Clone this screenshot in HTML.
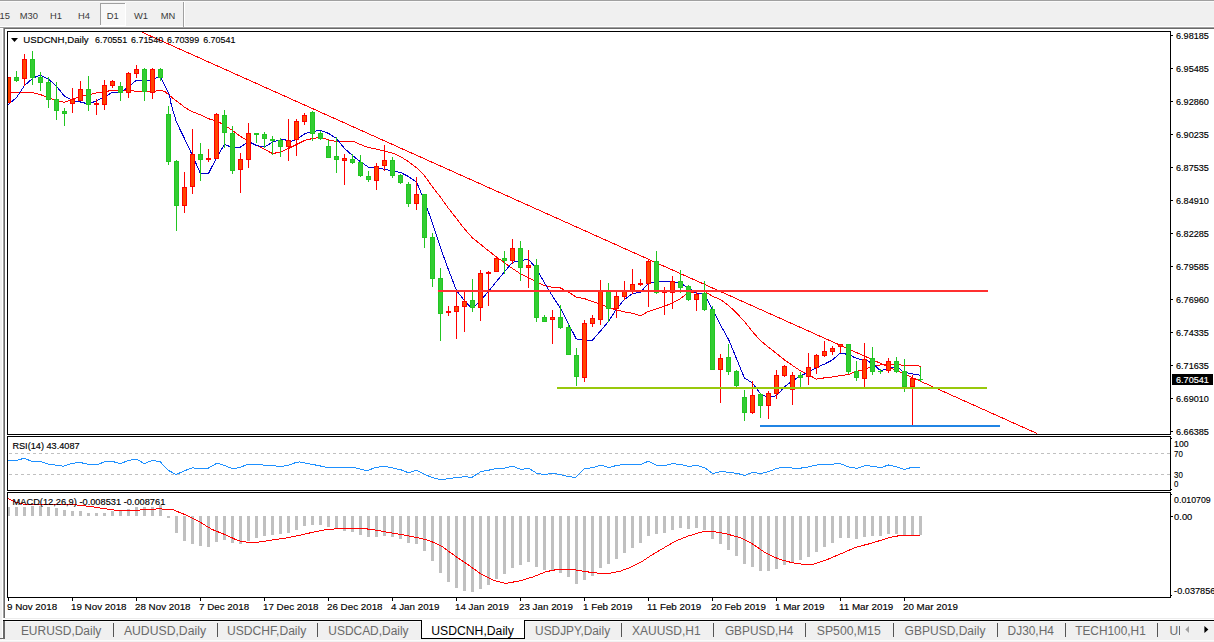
<!DOCTYPE html>
<html><head><meta charset="utf-8"><title>USDCNH,Daily</title>
<style>
html,body{margin:0;padding:0;background:#fff;}
body{width:1214px;height:642px;overflow:hidden;position:relative;font-family:"Liberation Sans",sans-serif;}
svg{position:absolute;left:0;top:0;}
text{font-family:"Liberation Sans",sans-serif;}
.ax{font-size:9.5px;fill:#000;stroke:#000;stroke-width:0.15px;}
.dt{font-size:9.8px;fill:#000;stroke:#000;stroke-width:0.15px;}
.lb{font-size:9.5px;fill:#000;stroke:#000;stroke-width:0.15px;}
.tf{font-size:9.4px;fill:#3a3a3a;}
.tab{font-size:12px;fill:#6a6a6a;}
</style></head><body>
<svg width="1214" height="642" viewBox="0 0 1214 642" shape-rendering="crispEdges">
<rect x="0" y="0" width="1214" height="642" fill="#fff"/>
<!-- toolbar -->
<rect x="0" y="0" width="1214" height="27" fill="#f0f0f0"/>
<rect x="0" y="0" width="1214" height="1" fill="#a0a0a0"/>
<rect x="0" y="1" width="1214" height="1" fill="#fafafa"/>
<rect x="0" y="26" width="1214" height="1" fill="#fff"/>
<rect x="0" y="27" width="1214" height="1" fill="#a0a0a0"/>
<rect x="4" y="28" width="1210" height="1" fill="#696969"/>
<!-- left strip -->
<rect x="0" y="29" width="2" height="613" fill="#f0f0f0"/>
<rect x="2" y="28" width="1" height="591" fill="#fff"/>
<rect x="3" y="28" width="1" height="590" fill="#a0a0a0"/>
<rect x="4" y="28" width="1" height="590" fill="#696969"/>
<!-- D1 button -->
<rect x="100" y="3" width="26" height="23" fill="#f8f8f8"/>
<rect x="100" y="3" width="26" height="1" fill="#a0a0a0"/>
<rect x="100" y="3" width="1" height="23" fill="#a0a0a0"/>
<rect x="125" y="3" width="1" height="23" fill="#fff"/>
<rect x="100" y="25" width="26" height="1" fill="#fff"/>
<rect x="183" y="2" width="1" height="25" fill="#a0a0a0"/>
<rect x="184" y="2" width="1" height="25" fill="#fff"/>
<g shape-rendering="auto">
<text x="-0.5" y="18.8" class="tf">15</text>
<text x="19.8" y="18.8" class="tf">M30</text>
<text x="50" y="18.8" class="tf">H1</text>
<text x="78" y="18.8" class="tf">H4</text>
<text x="106.8" y="18.8" class="tf">D1</text>
<text x="134" y="18.8" class="tf">W1</text>
<text x="160.7" y="18.8" class="tf">MN</text>
</g>
<!-- chart frames -->
<g fill="none" stroke="#000" stroke-width="1">
<rect x="7.5" y="31.5" width="1163" height="403"/>
<rect x="7.5" y="436.5" width="1163" height="54"/>
<rect x="7.5" y="492.5" width="1163" height="105"/>
</g>
<!-- clip for chart -->
<defs><clipPath id="cm"><rect x="8" y="32" width="1162" height="402"/></clipPath>
<clipPath id="cd"><rect x="8" y="493" width="1162" height="104"/></clipPath></defs>
<g clip-path="url(#cm)">
<polyline points="8.0,92.5 16.4,92.5 24.4,92.5 32.5,92.5 40.4,94.6 48.5,97.9 56.6,100.3 64.5,102.3 72.5,99.2 80.4,96.3 88.5,94.7 96.4,93.0 104.5,91.9 112.5,90.1 120.4,90.6 128.5,90.1 136.4,91.4 144.5,91.9 152.5,91.7 161.1,90.0 165.2,91.8 169.3,95.3 174.0,99.2 179.2,102.9 185.0,107.6 190.9,111.1 196.7,113.4 202.6,115.7 208.4,118.7 214.3,120.4 220.1,122.8 224.5,125.1 232.4,130.5 240.5,136.5 248.6,141.2 256.5,145.3 264.6,149.2 272.5,153.6 280.6,152.0 288.5,148.5 296.6,144.5 304.7,140.4 312.6,138.5 320.5,137.5 328.6,139.9 336.5,141.5 344.6,141.1 352.7,141.1 360.6,144.6 368.7,147.6 376.6,149.2 384.7,151.2 392.6,153.1 400.7,156.7 408.6,161.8 416.7,167.8 424.6,175.9 432.7,187.1 440.7,197.5 448.6,208.5 456.5,218.5 464.4,228.8 472.4,237.8 480.4,244.2 488.3,250.6 496.5,257.0 504.5,262.7 512.5,268.6 520.4,273.7 528.4,277.6 536.3,281.4 544.3,285.6 552.4,287.3 560.4,288.0 568.3,292.0 576.2,297.0 584.4,298.6 592.4,301.6 600.3,304.2 608.3,307.3 616.3,309.9 624.2,311.9 632.2,313.2 640.4,315.8 648.4,311.4 656.3,308.8 664.6,306.3 672.5,302.9 680.5,298.6 688.4,292.6 696.4,292.1 704.4,291.2 712.6,296.4 720.6,299.6 728.5,305.4 736.5,312.9 744.4,321.5 752.4,331.6 760.4,340.6 768.3,347.0 776.5,353.5 784.5,359.9 792.5,365.5 800.4,370.7 808.4,374.8 816.3,379.1 824.3,377.9 832.5,376.9 840.0,375.7 849.3,374.3 854.0,371.9 862.0,370.0 867.1,368.2 870.1,367.2 875.0,365.4 881.1,364.9 899.8,364.9 904.5,365.4 916.6,365.4 919.9,366.3 920.6,367.4" fill="none" stroke="#ff0000" stroke-width="1"/>
<polyline points="8.0,104.7 16.4,97.6 24.4,85.7 32.5,78.4 39.7,75.1 48.5,79.1 56.6,86.4 64.5,96.3 72.5,100.5 80.4,102.0 88.5,104.0 96.4,100.9 104.5,97.0 112.5,92.3 120.4,92.6 128.5,87.0 136.4,80.1 144.5,80.4 152.5,80.0 154.7,78.9 157.6,77.2 161.1,78.4 169.3,94.7 171.3,105.0 176.5,122.2 184.4,138.4 192.5,155.6 200.4,173.5 208.5,173.5 216.4,158.0 224.5,144.5 232.4,147.5 240.5,147.1 248.6,141.5 256.5,145.5 264.6,147.1 272.5,142.0 280.6,139.8 284.7,139.4 288.5,142.0 296.6,139.4 304.7,133.8 312.6,131.4 320.5,130.4 328.6,133.4 336.5,138.5 344.6,148.6 352.7,155.7 360.6,161.8 368.7,167.4 376.6,167.4 384.7,169.3 392.6,170.9 400.7,172.5 408.6,176.6 416.6,182.3 424.6,201.0 432.6,223.7 440.6,248.1 448.5,269.9 456.5,290.4 464.4,300.7 470.3,306.6 474.2,306.6 480.4,300.7 488.3,291.7 496.5,281.4 504.5,271.9 512.5,262.2 520.4,260.9 528.4,259.1 536.3,268.6 544.3,282.5 552.4,296.0 560.4,308.2 568.4,323.5 576.2,338.9 584.4,340.2 592.4,340.2 600.3,331.2 608.3,321.7 616.3,309.3 624.2,299.6 632.2,293.9 640.4,292.1 648.4,283.7 656.3,281.9 664.6,281.9 672.5,281.9 680.5,283.1 688.4,288.0 696.4,293.2 704.4,293.6 712.6,309.8 720.6,325.2 728.5,339.3 736.5,358.6 744.4,377.9 752.4,383.0 760.4,393.8 765.8,396.3 772.2,396.3 776.5,395.8 784.5,386.8 792.5,380.9 800.4,376.1 808.4,372.0 816.3,367.6 824.3,364.2 832.5,359.9 840.0,353.2 844.7,353.4 846.1,354.6 851.0,355.1 854.0,357.4 862.0,359.8 867.1,360.2 870.1,362.6 875.0,365.4 878.1,368.6 881.1,371.0 883.9,369.6 886.1,369.4 890.9,367.7 894.0,367.2 899.1,368.2 902.1,371.0 907.1,372.9 910.1,373.5 915.0,374.3 920.0,375.2" fill="none" stroke="#0000cd" stroke-width="1"/>
<line x1="141.7" y1="32" x2="1037" y2="433.5" stroke="#ff0000" stroke-width="1"/>
<rect x="8" y="77" width="1" height="26" fill="#ff0000"/>
<rect x="6" y="77" width="5" height="26" fill="#ff0000"/>
<rect x="7" y="78" width="3" height="24" fill="#ff4500"/>
<rect x="16" y="71" width="1" height="11" fill="#22c522"/>
<rect x="14" y="77" width="5" height="4" fill="#22c522"/>
<rect x="15" y="78" width="3" height="2" fill="#32cd32"/>
<rect x="24" y="54" width="1" height="32" fill="#ff0000"/>
<rect x="22" y="59" width="5" height="20" fill="#ff0000"/>
<rect x="23" y="60" width="3" height="18" fill="#ff4500"/>
<rect x="32" y="51" width="1" height="34" fill="#22c522"/>
<rect x="30" y="59" width="5" height="19" fill="#22c522"/>
<rect x="31" y="60" width="3" height="17" fill="#32cd32"/>
<rect x="40" y="72" width="1" height="19" fill="#22c522"/>
<rect x="38" y="77" width="5" height="6" fill="#22c522"/>
<rect x="39" y="78" width="3" height="4" fill="#32cd32"/>
<rect x="48" y="77" width="1" height="31" fill="#22c522"/>
<rect x="46" y="82" width="5" height="18" fill="#22c522"/>
<rect x="47" y="83" width="3" height="16" fill="#32cd32"/>
<rect x="56" y="82" width="1" height="38" fill="#22c522"/>
<rect x="54" y="99" width="5" height="12" fill="#22c522"/>
<rect x="55" y="100" width="3" height="10" fill="#32cd32"/>
<rect x="64" y="108" width="1" height="18" fill="#22c522"/>
<rect x="62" y="111" width="5" height="3" fill="#22c522"/>
<rect x="63" y="112" width="3" height="1" fill="#32cd32"/>
<rect x="72" y="88" width="1" height="25" fill="#ff0000"/>
<rect x="70" y="99" width="5" height="5" fill="#ff0000"/>
<rect x="71" y="100" width="3" height="3" fill="#ff4500"/>
<rect x="80" y="81" width="1" height="20" fill="#ff0000"/>
<rect x="78" y="89" width="5" height="12" fill="#ff0000"/>
<rect x="79" y="90" width="3" height="10" fill="#ff4500"/>
<rect x="88" y="76" width="1" height="35" fill="#22c522"/>
<rect x="86" y="89" width="5" height="16" fill="#22c522"/>
<rect x="87" y="90" width="3" height="14" fill="#32cd32"/>
<rect x="96" y="99" width="1" height="16" fill="#ff0000"/>
<rect x="94" y="103" width="5" height="2" fill="#ff0000"/>
<rect x="104" y="80" width="1" height="30" fill="#ff0000"/>
<rect x="102" y="85" width="5" height="20" fill="#ff0000"/>
<rect x="103" y="86" width="3" height="18" fill="#ff4500"/>
<rect x="112" y="80" width="1" height="8" fill="#ff0000"/>
<rect x="110" y="81" width="5" height="5" fill="#ff0000"/>
<rect x="111" y="82" width="3" height="3" fill="#ff4500"/>
<rect x="120" y="82" width="1" height="19" fill="#22c522"/>
<rect x="118" y="86" width="5" height="7" fill="#22c522"/>
<rect x="119" y="87" width="3" height="5" fill="#32cd32"/>
<rect x="128" y="72" width="1" height="26" fill="#ff0000"/>
<rect x="126" y="73" width="5" height="20" fill="#ff0000"/>
<rect x="127" y="74" width="3" height="18" fill="#ff4500"/>
<rect x="136" y="65" width="1" height="13" fill="#ff0000"/>
<rect x="134" y="69" width="5" height="5" fill="#ff0000"/>
<rect x="135" y="70" width="3" height="3" fill="#ff4500"/>
<rect x="144" y="68" width="1" height="33" fill="#22c522"/>
<rect x="142" y="69" width="5" height="23" fill="#22c522"/>
<rect x="143" y="70" width="3" height="21" fill="#32cd32"/>
<rect x="152" y="68" width="1" height="31" fill="#ff0000"/>
<rect x="150" y="69" width="5" height="24" fill="#ff0000"/>
<rect x="151" y="70" width="3" height="22" fill="#ff4500"/>
<rect x="160" y="68" width="1" height="13" fill="#22c522"/>
<rect x="158" y="69" width="5" height="9" fill="#22c522"/>
<rect x="159" y="70" width="3" height="7" fill="#32cd32"/>
<rect x="168" y="106" width="1" height="59" fill="#22c522"/>
<rect x="166" y="114" width="5" height="48" fill="#22c522"/>
<rect x="167" y="115" width="3" height="46" fill="#32cd32"/>
<rect x="176" y="160" width="1" height="71" fill="#22c522"/>
<rect x="174" y="161" width="5" height="45" fill="#22c522"/>
<rect x="175" y="162" width="3" height="43" fill="#32cd32"/>
<rect x="184" y="172" width="1" height="41" fill="#ff0000"/>
<rect x="182" y="187" width="5" height="19" fill="#ff0000"/>
<rect x="183" y="188" width="3" height="17" fill="#ff4500"/>
<rect x="192" y="129" width="1" height="65" fill="#ff0000"/>
<rect x="190" y="154" width="5" height="33" fill="#ff0000"/>
<rect x="191" y="155" width="3" height="31" fill="#ff4500"/>
<rect x="200" y="143" width="1" height="38" fill="#22c522"/>
<rect x="198" y="154" width="5" height="6" fill="#22c522"/>
<rect x="199" y="155" width="3" height="4" fill="#32cd32"/>
<rect x="208" y="149" width="1" height="13" fill="#ff0000"/>
<rect x="206" y="158" width="5" height="2" fill="#ff0000"/>
<rect x="216" y="113" width="1" height="46" fill="#ff0000"/>
<rect x="214" y="114" width="5" height="45" fill="#ff0000"/>
<rect x="215" y="115" width="3" height="43" fill="#ff4500"/>
<rect x="224" y="110" width="1" height="38" fill="#22c522"/>
<rect x="222" y="115" width="5" height="18" fill="#22c522"/>
<rect x="223" y="116" width="3" height="16" fill="#32cd32"/>
<rect x="232" y="126" width="1" height="48" fill="#22c522"/>
<rect x="230" y="133" width="5" height="38" fill="#22c522"/>
<rect x="231" y="134" width="3" height="36" fill="#32cd32"/>
<rect x="240" y="153" width="1" height="40" fill="#ff0000"/>
<rect x="238" y="159" width="5" height="11" fill="#ff0000"/>
<rect x="239" y="160" width="3" height="9" fill="#ff4500"/>
<rect x="248" y="123" width="1" height="45" fill="#ff0000"/>
<rect x="246" y="133" width="5" height="27" fill="#ff0000"/>
<rect x="247" y="134" width="3" height="25" fill="#ff4500"/>
<rect x="256" y="133" width="1" height="10" fill="#22c522"/>
<rect x="254" y="133" width="5" height="2" fill="#22c522"/>
<rect x="264" y="132" width="1" height="16" fill="#22c522"/>
<rect x="262" y="134" width="5" height="5" fill="#22c522"/>
<rect x="263" y="135" width="3" height="3" fill="#32cd32"/>
<rect x="272" y="136" width="1" height="19" fill="#22c522"/>
<rect x="270" y="139" width="5" height="2" fill="#22c522"/>
<rect x="280" y="138" width="1" height="19" fill="#22c522"/>
<rect x="278" y="140" width="5" height="7" fill="#22c522"/>
<rect x="279" y="141" width="3" height="5" fill="#32cd32"/>
<rect x="288" y="119" width="1" height="42" fill="#ff0000"/>
<rect x="286" y="140" width="5" height="7" fill="#ff0000"/>
<rect x="287" y="141" width="3" height="5" fill="#ff4500"/>
<rect x="296" y="119" width="1" height="37" fill="#ff0000"/>
<rect x="294" y="121" width="5" height="19" fill="#ff0000"/>
<rect x="295" y="122" width="3" height="17" fill="#ff4500"/>
<rect x="304" y="113" width="1" height="12" fill="#ff0000"/>
<rect x="302" y="115" width="5" height="7" fill="#ff0000"/>
<rect x="303" y="116" width="3" height="5" fill="#ff4500"/>
<rect x="312" y="111" width="1" height="30" fill="#22c522"/>
<rect x="310" y="112" width="5" height="22" fill="#22c522"/>
<rect x="311" y="113" width="3" height="20" fill="#32cd32"/>
<rect x="320" y="131" width="1" height="9" fill="#22c522"/>
<rect x="318" y="133" width="5" height="6" fill="#22c522"/>
<rect x="319" y="134" width="3" height="4" fill="#32cd32"/>
<rect x="328" y="140" width="1" height="18" fill="#22c522"/>
<rect x="326" y="146" width="5" height="12" fill="#22c522"/>
<rect x="327" y="147" width="3" height="10" fill="#32cd32"/>
<rect x="336" y="137" width="1" height="36" fill="#22c522"/>
<rect x="334" y="156" width="5" height="4" fill="#22c522"/>
<rect x="335" y="157" width="3" height="2" fill="#32cd32"/>
<rect x="344" y="154" width="1" height="31" fill="#ff0000"/>
<rect x="342" y="158" width="5" height="3" fill="#ff0000"/>
<rect x="343" y="159" width="3" height="1" fill="#ff4500"/>
<rect x="352" y="154" width="1" height="10" fill="#22c522"/>
<rect x="350" y="159" width="5" height="4" fill="#22c522"/>
<rect x="351" y="160" width="3" height="2" fill="#32cd32"/>
<rect x="360" y="155" width="1" height="22" fill="#22c522"/>
<rect x="358" y="162" width="5" height="14" fill="#22c522"/>
<rect x="359" y="163" width="3" height="12" fill="#32cd32"/>
<rect x="368" y="171" width="1" height="11" fill="#22c522"/>
<rect x="366" y="176" width="5" height="4" fill="#22c522"/>
<rect x="367" y="177" width="3" height="2" fill="#32cd32"/>
<rect x="376" y="163" width="1" height="27" fill="#ff0000"/>
<rect x="374" y="166" width="5" height="15" fill="#ff0000"/>
<rect x="375" y="167" width="3" height="13" fill="#ff4500"/>
<rect x="384" y="145" width="1" height="26" fill="#ff0000"/>
<rect x="382" y="160" width="5" height="6" fill="#ff0000"/>
<rect x="383" y="161" width="3" height="4" fill="#ff4500"/>
<rect x="392" y="157" width="1" height="21" fill="#22c522"/>
<rect x="390" y="160" width="5" height="16" fill="#22c522"/>
<rect x="391" y="161" width="3" height="14" fill="#32cd32"/>
<rect x="400" y="174" width="1" height="10" fill="#22c522"/>
<rect x="398" y="175" width="5" height="8" fill="#22c522"/>
<rect x="399" y="176" width="3" height="6" fill="#32cd32"/>
<rect x="408" y="182" width="1" height="25" fill="#22c522"/>
<rect x="406" y="184" width="5" height="20" fill="#22c522"/>
<rect x="407" y="185" width="3" height="18" fill="#32cd32"/>
<rect x="416" y="177" width="1" height="33" fill="#ff0000"/>
<rect x="414" y="194" width="5" height="10" fill="#ff0000"/>
<rect x="415" y="195" width="3" height="8" fill="#ff4500"/>
<rect x="424" y="194" width="1" height="54" fill="#22c522"/>
<rect x="422" y="194" width="5" height="44" fill="#22c522"/>
<rect x="423" y="195" width="3" height="42" fill="#32cd32"/>
<rect x="432" y="233" width="1" height="54" fill="#22c522"/>
<rect x="430" y="237" width="5" height="42" fill="#22c522"/>
<rect x="431" y="238" width="3" height="40" fill="#32cd32"/>
<rect x="440" y="268" width="1" height="73" fill="#22c522"/>
<rect x="438" y="278" width="5" height="36" fill="#22c522"/>
<rect x="439" y="279" width="3" height="34" fill="#32cd32"/>
<rect x="448" y="306" width="1" height="10" fill="#ff0000"/>
<rect x="446" y="311" width="5" height="2" fill="#ff0000"/>
<rect x="456" y="291" width="1" height="48" fill="#ff0000"/>
<rect x="454" y="306" width="5" height="6" fill="#ff0000"/>
<rect x="455" y="307" width="3" height="4" fill="#ff4500"/>
<rect x="464" y="291" width="1" height="41" fill="#ff0000"/>
<rect x="462" y="301" width="5" height="6" fill="#ff0000"/>
<rect x="463" y="302" width="3" height="4" fill="#ff4500"/>
<rect x="472" y="279" width="1" height="33" fill="#22c522"/>
<rect x="470" y="300" width="5" height="8" fill="#22c522"/>
<rect x="471" y="301" width="3" height="6" fill="#32cd32"/>
<rect x="480" y="270" width="1" height="51" fill="#ff0000"/>
<rect x="478" y="273" width="5" height="35" fill="#ff0000"/>
<rect x="479" y="274" width="3" height="33" fill="#ff4500"/>
<rect x="488" y="271" width="1" height="35" fill="#ff0000"/>
<rect x="486" y="272" width="5" height="2" fill="#ff0000"/>
<rect x="496" y="256" width="1" height="16" fill="#ff0000"/>
<rect x="494" y="258" width="5" height="14" fill="#ff0000"/>
<rect x="495" y="259" width="3" height="12" fill="#ff4500"/>
<rect x="504" y="251" width="1" height="23" fill="#22c522"/>
<rect x="502" y="258" width="5" height="3" fill="#22c522"/>
<rect x="503" y="259" width="3" height="1" fill="#32cd32"/>
<rect x="512" y="239" width="1" height="25" fill="#ff0000"/>
<rect x="510" y="248" width="5" height="13" fill="#ff0000"/>
<rect x="511" y="249" width="3" height="11" fill="#ff4500"/>
<rect x="520" y="241" width="1" height="40" fill="#22c522"/>
<rect x="518" y="248" width="5" height="20" fill="#22c522"/>
<rect x="519" y="249" width="3" height="18" fill="#32cd32"/>
<rect x="528" y="250" width="1" height="38" fill="#ff0000"/>
<rect x="526" y="265" width="5" height="3" fill="#ff0000"/>
<rect x="527" y="266" width="3" height="1" fill="#ff4500"/>
<rect x="536" y="259" width="1" height="63" fill="#22c522"/>
<rect x="534" y="265" width="5" height="53" fill="#22c522"/>
<rect x="535" y="266" width="3" height="51" fill="#32cd32"/>
<rect x="544" y="315" width="1" height="7" fill="#22c522"/>
<rect x="542" y="317" width="5" height="5" fill="#22c522"/>
<rect x="543" y="318" width="3" height="3" fill="#32cd32"/>
<rect x="552" y="310" width="1" height="34" fill="#ff0000"/>
<rect x="550" y="317" width="5" height="3" fill="#ff0000"/>
<rect x="551" y="318" width="3" height="1" fill="#ff4500"/>
<rect x="560" y="305" width="1" height="24" fill="#22c522"/>
<rect x="558" y="317" width="5" height="11" fill="#22c522"/>
<rect x="559" y="318" width="3" height="9" fill="#32cd32"/>
<rect x="568" y="324" width="1" height="31" fill="#22c522"/>
<rect x="566" y="327" width="5" height="28" fill="#22c522"/>
<rect x="567" y="328" width="3" height="26" fill="#32cd32"/>
<rect x="576" y="348" width="1" height="38" fill="#22c522"/>
<rect x="574" y="355" width="5" height="22" fill="#22c522"/>
<rect x="575" y="356" width="3" height="20" fill="#32cd32"/>
<rect x="584" y="320" width="1" height="62" fill="#ff0000"/>
<rect x="582" y="323" width="5" height="55" fill="#ff0000"/>
<rect x="583" y="324" width="3" height="53" fill="#ff4500"/>
<rect x="592" y="315" width="1" height="12" fill="#ff0000"/>
<rect x="590" y="318" width="5" height="6" fill="#ff0000"/>
<rect x="591" y="319" width="3" height="4" fill="#ff4500"/>
<rect x="600" y="280" width="1" height="45" fill="#ff0000"/>
<rect x="598" y="291" width="5" height="29" fill="#ff0000"/>
<rect x="599" y="292" width="3" height="27" fill="#ff4500"/>
<rect x="608" y="283" width="1" height="39" fill="#22c522"/>
<rect x="606" y="291" width="5" height="18" fill="#22c522"/>
<rect x="607" y="292" width="3" height="16" fill="#32cd32"/>
<rect x="616" y="292" width="1" height="26" fill="#ff0000"/>
<rect x="614" y="296" width="5" height="13" fill="#ff0000"/>
<rect x="615" y="297" width="3" height="11" fill="#ff4500"/>
<rect x="624" y="281" width="1" height="19" fill="#ff0000"/>
<rect x="622" y="291" width="5" height="6" fill="#ff0000"/>
<rect x="623" y="292" width="3" height="4" fill="#ff4500"/>
<rect x="632" y="269" width="1" height="25" fill="#ff0000"/>
<rect x="630" y="284" width="5" height="7" fill="#ff0000"/>
<rect x="631" y="285" width="3" height="5" fill="#ff4500"/>
<rect x="640" y="279" width="1" height="7" fill="#ff0000"/>
<rect x="638" y="283" width="5" height="2" fill="#ff0000"/>
<rect x="648" y="259" width="1" height="48" fill="#ff0000"/>
<rect x="646" y="261" width="5" height="23" fill="#ff0000"/>
<rect x="647" y="262" width="3" height="21" fill="#ff4500"/>
<rect x="656" y="251" width="1" height="43" fill="#22c522"/>
<rect x="654" y="261" width="5" height="32" fill="#22c522"/>
<rect x="655" y="262" width="3" height="30" fill="#32cd32"/>
<rect x="664" y="287" width="1" height="28" fill="#ff0000"/>
<rect x="662" y="291" width="5" height="2" fill="#ff0000"/>
<rect x="672" y="276" width="1" height="33" fill="#ff0000"/>
<rect x="670" y="281" width="5" height="12" fill="#ff0000"/>
<rect x="671" y="282" width="3" height="10" fill="#ff4500"/>
<rect x="680" y="270" width="1" height="23" fill="#22c522"/>
<rect x="678" y="281" width="5" height="7" fill="#22c522"/>
<rect x="679" y="282" width="3" height="5" fill="#32cd32"/>
<rect x="688" y="285" width="1" height="16" fill="#22c522"/>
<rect x="686" y="286" width="5" height="14" fill="#22c522"/>
<rect x="687" y="287" width="3" height="12" fill="#32cd32"/>
<rect x="696" y="293" width="1" height="18" fill="#ff0000"/>
<rect x="694" y="294" width="5" height="6" fill="#ff0000"/>
<rect x="695" y="295" width="3" height="4" fill="#ff4500"/>
<rect x="704" y="281" width="1" height="30" fill="#22c522"/>
<rect x="702" y="293" width="5" height="17" fill="#22c522"/>
<rect x="703" y="294" width="3" height="15" fill="#32cd32"/>
<rect x="712" y="306" width="1" height="64" fill="#22c522"/>
<rect x="710" y="309" width="5" height="61" fill="#22c522"/>
<rect x="711" y="310" width="3" height="59" fill="#32cd32"/>
<rect x="720" y="354" width="1" height="49" fill="#ff0000"/>
<rect x="718" y="358" width="5" height="12" fill="#ff0000"/>
<rect x="719" y="359" width="3" height="10" fill="#ff4500"/>
<rect x="728" y="344" width="1" height="31" fill="#22c522"/>
<rect x="726" y="357" width="5" height="15" fill="#22c522"/>
<rect x="727" y="358" width="3" height="13" fill="#32cd32"/>
<rect x="736" y="370" width="1" height="17" fill="#22c522"/>
<rect x="734" y="371" width="5" height="15" fill="#22c522"/>
<rect x="735" y="372" width="3" height="13" fill="#32cd32"/>
<rect x="744" y="390" width="1" height="31" fill="#22c522"/>
<rect x="742" y="397" width="5" height="16" fill="#22c522"/>
<rect x="743" y="398" width="3" height="14" fill="#32cd32"/>
<rect x="752" y="381" width="1" height="33" fill="#ff0000"/>
<rect x="750" y="395" width="5" height="18" fill="#ff0000"/>
<rect x="751" y="396" width="3" height="16" fill="#ff4500"/>
<rect x="760" y="393" width="1" height="25" fill="#22c522"/>
<rect x="758" y="394" width="5" height="12" fill="#22c522"/>
<rect x="759" y="395" width="3" height="10" fill="#32cd32"/>
<rect x="768" y="391" width="1" height="28" fill="#ff0000"/>
<rect x="766" y="393" width="5" height="13" fill="#ff0000"/>
<rect x="767" y="394" width="3" height="11" fill="#ff4500"/>
<rect x="776" y="370" width="1" height="29" fill="#ff0000"/>
<rect x="774" y="375" width="5" height="19" fill="#ff0000"/>
<rect x="775" y="376" width="3" height="17" fill="#ff4500"/>
<rect x="784" y="365" width="1" height="12" fill="#ff0000"/>
<rect x="782" y="366" width="5" height="10" fill="#ff0000"/>
<rect x="783" y="367" width="3" height="8" fill="#ff4500"/>
<rect x="792" y="372" width="1" height="33" fill="#ff0000"/>
<rect x="790" y="375" width="5" height="15" fill="#ff0000"/>
<rect x="791" y="376" width="3" height="13" fill="#ff4500"/>
<rect x="800" y="372" width="1" height="15" fill="#22c522"/>
<rect x="798" y="375" width="5" height="3" fill="#22c522"/>
<rect x="799" y="376" width="3" height="1" fill="#32cd32"/>
<rect x="808" y="353" width="1" height="32" fill="#ff0000"/>
<rect x="806" y="367" width="5" height="10" fill="#ff0000"/>
<rect x="807" y="368" width="3" height="8" fill="#ff4500"/>
<rect x="816" y="354" width="1" height="20" fill="#ff0000"/>
<rect x="814" y="355" width="5" height="13" fill="#ff0000"/>
<rect x="815" y="356" width="3" height="11" fill="#ff4500"/>
<rect x="824" y="341" width="1" height="16" fill="#ff0000"/>
<rect x="822" y="351" width="5" height="5" fill="#ff0000"/>
<rect x="823" y="352" width="3" height="3" fill="#ff4500"/>
<rect x="832" y="346" width="1" height="9" fill="#ff0000"/>
<rect x="830" y="348" width="5" height="4" fill="#ff0000"/>
<rect x="831" y="349" width="3" height="2" fill="#ff4500"/>
<rect x="840" y="344" width="1" height="9" fill="#ff0000"/>
<rect x="838" y="344" width="5" height="3" fill="#ff0000"/>
<rect x="839" y="345" width="3" height="1" fill="#ff4500"/>
<rect x="848" y="344" width="1" height="30" fill="#22c522"/>
<rect x="846" y="344" width="5" height="28" fill="#22c522"/>
<rect x="847" y="345" width="3" height="26" fill="#32cd32"/>
<rect x="856" y="361" width="1" height="20" fill="#22c522"/>
<rect x="854" y="371" width="5" height="7" fill="#22c522"/>
<rect x="855" y="372" width="3" height="5" fill="#32cd32"/>
<rect x="864" y="343" width="1" height="44" fill="#ff0000"/>
<rect x="862" y="359" width="5" height="20" fill="#ff0000"/>
<rect x="863" y="360" width="3" height="18" fill="#ff4500"/>
<rect x="872" y="347" width="1" height="28" fill="#22c522"/>
<rect x="870" y="358" width="5" height="14" fill="#22c522"/>
<rect x="871" y="359" width="3" height="12" fill="#32cd32"/>
<rect x="880" y="369" width="1" height="5" fill="#22c522"/>
<rect x="878" y="371" width="5" height="1" fill="#22c522"/>
<rect x="888" y="358" width="1" height="15" fill="#ff0000"/>
<rect x="886" y="361" width="5" height="10" fill="#ff0000"/>
<rect x="887" y="362" width="3" height="8" fill="#ff4500"/>
<rect x="896" y="357" width="1" height="16" fill="#22c522"/>
<rect x="894" y="361" width="5" height="11" fill="#22c522"/>
<rect x="895" y="362" width="3" height="9" fill="#32cd32"/>
<rect x="904" y="359" width="1" height="33" fill="#22c522"/>
<rect x="902" y="371" width="5" height="16" fill="#22c522"/>
<rect x="903" y="372" width="3" height="14" fill="#32cd32"/>
<rect x="912" y="375" width="1" height="50" fill="#ff0000"/>
<rect x="910" y="378" width="5" height="9" fill="#ff0000"/>
<rect x="911" y="379" width="3" height="7" fill="#ff4500"/>
<rect x="920" y="367" width="1" height="15" fill="#22c522"/>
<rect x="918" y="379" width="5" height="1" fill="#22c522"/>
<rect x="438" y="290" width="550" height="2" fill="#ff3030"/>
<rect x="557" y="387" width="430" height="2" fill="#98c80c"/>
<rect x="760" y="425" width="240" height="2" fill="#2084e4"/>
</g>
<!-- RSI -->
<line x1="9" y1="453.5" x2="1170" y2="453.5" stroke="#c0c0c0" stroke-width="1" stroke-dasharray="3,3"/>
<line x1="9" y1="474.5" x2="1170" y2="474.5" stroke="#c0c0c0" stroke-width="1" stroke-dasharray="3,3"/>
<polyline points="7.9,461.0 17.2,460.4 23.8,458.3 31.8,461.2 41.0,461.8 49.0,464.4 56.9,465.2 63.5,466.3 71.5,463.6 79.4,462.3 88.7,464.4 96.6,465.0 104.6,461.8 113.8,461.8 120.5,463.6 128.4,460.4 136.4,459.1 144.3,463.6 152.2,460.4 160.2,461.8 168.1,470.2 176.1,474.5 184.0,471.0 192.0,467.9 199.9,468.4 207.8,468.4 217.1,463.1 225.0,465.7 233.0,468.9 240.9,467.1 247.6,464.4 256.8,464.4 264.8,465.2 272.7,465.7 280.6,466.5 288.6,465.2 296.5,462.3 300.0,461.9 307.8,463.7 315.5,465.0 325.9,467.1 338.8,467.6 354.3,467.6 367.2,470.7 375.0,467.6 384.0,466.3 393.1,468.1 400.8,469.7 408.6,472.8 416.3,470.2 424.1,474.1 431.9,477.4 440.9,479.8 450.0,478.5 457.7,477.4 465.5,476.7 471.9,477.4 481.0,471.5 488.7,470.2 496.5,468.4 504.2,468.1 512.8,466.3 520.8,469.4 528.8,468.4 536.8,473.3 544.8,474.6 552.8,473.3 560.9,474.6 568.9,476.7 575.3,477.4 584.4,468.9 592.9,467.6 600.9,465.0 608.5,467.6 616.5,465.5 624.6,464.5 632.6,464.5 640.6,464.5 648.6,461.1 656.6,465.5 664.6,465.5 672.6,463.7 680.7,464.5 688.7,466.3 696.7,465.5 704.7,467.6 712.7,473.6 720.7,471.5 728.7,472.3 736.8,473.3 744.8,475.4 752.8,472.3 760.8,473.6 768.8,471.5 776.8,468.4 784.8,467.1 792.9,468.1 800.9,468.1 808.9,466.8 816.9,465.0 824.9,464.2 832.9,464.2 839.1,463.2 849.0,467.1 857.0,468.4 865.0,465.5 873.0,466.3 881.0,467.6 888.5,465.0 896.5,466.8 904.6,469.4 912.6,467.1 920.0,467.1" fill="none" stroke="#1e90ff" stroke-width="1"/>
<!-- MACD -->
<g clip-path="url(#cd)">
<rect x="7" y="507" width="3" height="9" fill="#c0c0c0"/>
<rect x="15" y="507" width="3" height="9" fill="#c0c0c0"/>
<rect x="23" y="507" width="3" height="9" fill="#c0c0c0"/>
<rect x="31" y="506" width="3" height="10" fill="#c0c0c0"/>
<rect x="39" y="506" width="3" height="10" fill="#c0c0c0"/>
<rect x="47" y="507" width="3" height="9" fill="#c0c0c0"/>
<rect x="55" y="508" width="3" height="8" fill="#c0c0c0"/>
<rect x="63" y="510" width="3" height="6" fill="#c0c0c0"/>
<rect x="71" y="511" width="3" height="5" fill="#c0c0c0"/>
<rect x="79" y="511" width="3" height="5" fill="#c0c0c0"/>
<rect x="87" y="513" width="3" height="3" fill="#c0c0c0"/>
<rect x="95" y="513" width="3" height="3" fill="#c0c0c0"/>
<rect x="103" y="513" width="3" height="3" fill="#c0c0c0"/>
<rect x="111" y="511" width="3" height="5" fill="#c0c0c0"/>
<rect x="119" y="511" width="3" height="5" fill="#c0c0c0"/>
<rect x="127" y="509" width="3" height="7" fill="#c0c0c0"/>
<rect x="135" y="507" width="3" height="9" fill="#c0c0c0"/>
<rect x="143" y="507" width="3" height="9" fill="#c0c0c0"/>
<rect x="151" y="507" width="3" height="9" fill="#c0c0c0"/>
<rect x="159" y="505" width="3" height="11" fill="#c0c0c0"/>
<rect x="167" y="516" width="3" height="2" fill="#c0c0c0"/>
<rect x="175" y="516" width="3" height="17" fill="#c0c0c0"/>
<rect x="183" y="516" width="3" height="25" fill="#c0c0c0"/>
<rect x="191" y="516" width="3" height="28" fill="#c0c0c0"/>
<rect x="199" y="516" width="3" height="30" fill="#c0c0c0"/>
<rect x="207" y="516" width="3" height="31" fill="#c0c0c0"/>
<rect x="215" y="516" width="3" height="26" fill="#c0c0c0"/>
<rect x="223" y="516" width="3" height="24" fill="#c0c0c0"/>
<rect x="231" y="516" width="3" height="27" fill="#c0c0c0"/>
<rect x="239" y="516" width="3" height="28" fill="#c0c0c0"/>
<rect x="247" y="516" width="3" height="25" fill="#c0c0c0"/>
<rect x="255" y="516" width="3" height="22" fill="#c0c0c0"/>
<rect x="263" y="516" width="3" height="20" fill="#c0c0c0"/>
<rect x="271" y="516" width="3" height="19" fill="#c0c0c0"/>
<rect x="279" y="516" width="3" height="18" fill="#c0c0c0"/>
<rect x="287" y="516" width="3" height="17" fill="#c0c0c0"/>
<rect x="295" y="516" width="3" height="14" fill="#c0c0c0"/>
<rect x="303" y="516" width="3" height="10" fill="#c0c0c0"/>
<rect x="311" y="516" width="3" height="9" fill="#c0c0c0"/>
<rect x="319" y="516" width="3" height="9" fill="#c0c0c0"/>
<rect x="327" y="516" width="3" height="11" fill="#c0c0c0"/>
<rect x="335" y="516" width="3" height="13" fill="#c0c0c0"/>
<rect x="343" y="516" width="3" height="15" fill="#c0c0c0"/>
<rect x="351" y="516" width="3" height="16" fill="#c0c0c0"/>
<rect x="359" y="516" width="3" height="19" fill="#c0c0c0"/>
<rect x="367" y="516" width="3" height="21" fill="#c0c0c0"/>
<rect x="375" y="516" width="3" height="21" fill="#c0c0c0"/>
<rect x="383" y="516" width="3" height="20" fill="#c0c0c0"/>
<rect x="391" y="516" width="3" height="21" fill="#c0c0c0"/>
<rect x="399" y="516" width="3" height="23" fill="#c0c0c0"/>
<rect x="407" y="516" width="3" height="27" fill="#c0c0c0"/>
<rect x="415" y="516" width="3" height="28" fill="#c0c0c0"/>
<rect x="423" y="516" width="3" height="35" fill="#c0c0c0"/>
<rect x="431" y="516" width="3" height="45" fill="#c0c0c0"/>
<rect x="439" y="516" width="3" height="57" fill="#c0c0c0"/>
<rect x="447" y="516" width="3" height="66" fill="#c0c0c0"/>
<rect x="455" y="516" width="3" height="72" fill="#c0c0c0"/>
<rect x="463" y="516" width="3" height="75" fill="#c0c0c0"/>
<rect x="471" y="516" width="3" height="76" fill="#c0c0c0"/>
<rect x="479" y="516" width="3" height="73" fill="#c0c0c0"/>
<rect x="487" y="516" width="3" height="69" fill="#c0c0c0"/>
<rect x="495" y="516" width="3" height="63" fill="#c0c0c0"/>
<rect x="503" y="516" width="3" height="58" fill="#c0c0c0"/>
<rect x="511" y="516" width="3" height="52" fill="#c0c0c0"/>
<rect x="519" y="516" width="3" height="49" fill="#c0c0c0"/>
<rect x="527" y="516" width="3" height="46" fill="#c0c0c0"/>
<rect x="535" y="516" width="3" height="51" fill="#c0c0c0"/>
<rect x="543" y="516" width="3" height="54" fill="#c0c0c0"/>
<rect x="551" y="516" width="3" height="54" fill="#c0c0c0"/>
<rect x="559" y="516" width="3" height="57" fill="#c0c0c0"/>
<rect x="567" y="516" width="3" height="61" fill="#c0c0c0"/>
<rect x="575" y="516" width="3" height="68" fill="#c0c0c0"/>
<rect x="583" y="516" width="3" height="64" fill="#c0c0c0"/>
<rect x="591" y="516" width="3" height="60" fill="#c0c0c0"/>
<rect x="599" y="516" width="3" height="52" fill="#c0c0c0"/>
<rect x="607" y="516" width="3" height="48" fill="#c0c0c0"/>
<rect x="615" y="516" width="3" height="43" fill="#c0c0c0"/>
<rect x="623" y="516" width="3" height="37" fill="#c0c0c0"/>
<rect x="631" y="516" width="3" height="32" fill="#c0c0c0"/>
<rect x="639" y="516" width="3" height="27" fill="#c0c0c0"/>
<rect x="647" y="516" width="3" height="20" fill="#c0c0c0"/>
<rect x="655" y="516" width="3" height="18" fill="#c0c0c0"/>
<rect x="663" y="516" width="3" height="17" fill="#c0c0c0"/>
<rect x="671" y="516" width="3" height="14" fill="#c0c0c0"/>
<rect x="679" y="516" width="3" height="12" fill="#c0c0c0"/>
<rect x="687" y="516" width="3" height="13" fill="#c0c0c0"/>
<rect x="695" y="516" width="3" height="12" fill="#c0c0c0"/>
<rect x="703" y="516" width="3" height="14" fill="#c0c0c0"/>
<rect x="711" y="516" width="3" height="23" fill="#c0c0c0"/>
<rect x="719" y="516" width="3" height="28" fill="#c0c0c0"/>
<rect x="727" y="516" width="3" height="34" fill="#c0c0c0"/>
<rect x="735" y="516" width="3" height="40" fill="#c0c0c0"/>
<rect x="743" y="516" width="3" height="48" fill="#c0c0c0"/>
<rect x="751" y="516" width="3" height="51" fill="#c0c0c0"/>
<rect x="759" y="516" width="3" height="55" fill="#c0c0c0"/>
<rect x="767" y="516" width="3" height="55" fill="#c0c0c0"/>
<rect x="775" y="516" width="3" height="53" fill="#c0c0c0"/>
<rect x="783" y="516" width="3" height="49" fill="#c0c0c0"/>
<rect x="791" y="516" width="3" height="46" fill="#c0c0c0"/>
<rect x="799" y="516" width="3" height="44" fill="#c0c0c0"/>
<rect x="807" y="516" width="3" height="41" fill="#c0c0c0"/>
<rect x="815" y="516" width="3" height="36" fill="#c0c0c0"/>
<rect x="823" y="516" width="3" height="31" fill="#c0c0c0"/>
<rect x="831" y="516" width="3" height="27" fill="#c0c0c0"/>
<rect x="839" y="516" width="3" height="22" fill="#c0c0c0"/>
<rect x="847" y="516" width="3" height="22" fill="#c0c0c0"/>
<rect x="855" y="516" width="3" height="23" fill="#c0c0c0"/>
<rect x="863" y="516" width="3" height="21" fill="#c0c0c0"/>
<rect x="871" y="516" width="3" height="20" fill="#c0c0c0"/>
<rect x="879" y="516" width="3" height="20" fill="#c0c0c0"/>
<rect x="887" y="516" width="3" height="18" fill="#c0c0c0"/>
<rect x="895" y="516" width="3" height="18" fill="#c0c0c0"/>
<rect x="903" y="516" width="3" height="19" fill="#c0c0c0"/>
<rect x="911" y="516" width="3" height="19" fill="#c0c0c0"/>
<rect x="919" y="516" width="3" height="19" fill="#c0c0c0"/>
<polyline points="7.4,498.2 14.8,501.9 26.7,504.8 53.0,504.8 76.0,504.9 92.7,506.8 105.9,508.9 119.1,510.8 132.4,510.8 145.6,509.4 158.9,508.9 172.1,509.4 185.3,514.7 198.6,521.3 211.8,529.3 225.0,534.6 238.3,540.7 248.9,542.5 259.5,542.0 272.7,539.9 285.9,538.0 300.0,535.3 312.9,532.2 325.9,529.7 338.8,528.6 351.7,528.1 364.6,528.6 377.6,530.4 390.5,532.8 403.4,534.8 416.3,537.4 429.3,540.5 442.2,546.5 455.1,556.0 468.0,564.6 481.0,574.1 493.9,580.6 505.5,583.4 519.8,580.9 532.7,577.0 545.6,571.8 558.5,569.2 571.5,569.2 584.4,571.5 597.3,573.1 610.3,573.1 620.7,571.0 631.0,567.1 641.4,562.0 651.7,555.0 662.0,549.0 675.0,541.3 687.9,536.1 703.4,531.5 713.8,531.5 726.7,534.0 739.6,537.4 752.5,543.9 765.5,552.9 778.4,558.9 791.3,562.5 804.2,564.6 814.6,564.0 827.5,559.4 843.0,552.9 855.9,547.2 868.9,543.9 881.8,540.0 890.3,537.4 900.7,535.4 920.0,535.4" fill="none" stroke="#ff0000" stroke-width="1"/>
</g>
<g shape-rendering="auto">
<rect x="1171" y="35" width="2" height="1" fill="#000"/>
<text x="1176" y="39" class="ax" textLength="32.9" lengthAdjust="spacingAndGlyphs">6.98185</text>
<rect x="1171" y="68" width="2" height="1" fill="#000"/>
<text x="1176" y="72" class="ax" textLength="32.9" lengthAdjust="spacingAndGlyphs">6.95485</text>
<rect x="1171" y="101" width="2" height="1" fill="#000"/>
<text x="1176" y="105" class="ax" textLength="32.9" lengthAdjust="spacingAndGlyphs">6.92860</text>
<rect x="1171" y="134" width="2" height="1" fill="#000"/>
<text x="1176" y="138" class="ax" textLength="32.9" lengthAdjust="spacingAndGlyphs">6.90235</text>
<rect x="1171" y="167" width="2" height="1" fill="#000"/>
<text x="1176" y="171" class="ax" textLength="32.9" lengthAdjust="spacingAndGlyphs">6.87535</text>
<rect x="1171" y="200" width="2" height="1" fill="#000"/>
<text x="1176" y="204" class="ax" textLength="32.9" lengthAdjust="spacingAndGlyphs">6.84910</text>
<rect x="1171" y="233" width="2" height="1" fill="#000"/>
<text x="1176" y="237" class="ax" textLength="32.9" lengthAdjust="spacingAndGlyphs">6.82285</text>
<rect x="1171" y="266" width="2" height="1" fill="#000"/>
<text x="1176" y="270" class="ax" textLength="32.9" lengthAdjust="spacingAndGlyphs">6.79585</text>
<rect x="1171" y="299" width="2" height="1" fill="#000"/>
<text x="1176" y="303" class="ax" textLength="32.9" lengthAdjust="spacingAndGlyphs">6.76960</text>
<rect x="1171" y="332" width="2" height="1" fill="#000"/>
<text x="1176" y="336" class="ax" textLength="32.9" lengthAdjust="spacingAndGlyphs">6.74335</text>
<rect x="1171" y="365" width="2" height="1" fill="#000"/>
<text x="1176" y="369" class="ax" textLength="32.9" lengthAdjust="spacingAndGlyphs">6.71635</text>
<rect x="1171" y="398" width="2" height="1" fill="#000"/>
<text x="1176" y="402" class="ax" textLength="32.9" lengthAdjust="spacingAndGlyphs">6.69010</text>
<rect x="1171" y="431" width="2" height="1" fill="#000"/>
<text x="1176" y="435" class="ax" textLength="32.9" lengthAdjust="spacingAndGlyphs">6.66385</text>
<text x="1174.1" y="447" class="ax" textLength="14.5" lengthAdjust="spacingAndGlyphs">100</text>
<text x="1174.1" y="457" class="ax" textLength="8.8" lengthAdjust="spacingAndGlyphs">70</text>
<text x="1174.1" y="478" class="ax" textLength="8.8" lengthAdjust="spacingAndGlyphs">30</text>
<text x="1174.1" y="487" class="ax" textLength="4.4" lengthAdjust="spacingAndGlyphs">0</text>
<text x="1174.1" y="503" class="ax" textLength="36.6" lengthAdjust="spacingAndGlyphs">0.010709</text>
<text x="1174.1" y="520" class="ax" textLength="18.2" lengthAdjust="spacingAndGlyphs">0.00</text>
<text x="1174.1" y="594" class="ax" textLength="41.3" lengthAdjust="spacingAndGlyphs">-0.037856</text>
<rect x="1171" y="516" width="2" height="1" fill="#000"/>
<rect x="1171" y="438" width="1" height="1" fill="#000"/>
<rect x="1171" y="489" width="1" height="1" fill="#000"/>
<rect x="1171" y="494" width="1" height="1" fill="#000"/>
<rect x="1171" y="595" width="1" height="1" fill="#000"/>
<rect x="8" y="598" width="1" height="3" fill="#000"/>
<text x="7" y="610" class="dt">9 Nov 2018</text>
<rect x="72" y="598" width="1" height="3" fill="#000"/>
<text x="71" y="610" class="dt">19 Nov 2018</text>
<rect x="136" y="598" width="1" height="3" fill="#000"/>
<text x="135" y="610" class="dt">28 Nov 2018</text>
<rect x="200" y="598" width="1" height="3" fill="#000"/>
<text x="199" y="610" class="dt">7 Dec 2018</text>
<rect x="264" y="598" width="1" height="3" fill="#000"/>
<text x="263" y="610" class="dt">17 Dec 2018</text>
<rect x="328" y="598" width="1" height="3" fill="#000"/>
<text x="327" y="610" class="dt">26 Dec 2018</text>
<rect x="392" y="598" width="1" height="3" fill="#000"/>
<text x="391" y="610" class="dt">4 Jan 2019</text>
<rect x="456" y="598" width="1" height="3" fill="#000"/>
<text x="455" y="610" class="dt">14 Jan 2019</text>
<rect x="520" y="598" width="1" height="3" fill="#000"/>
<text x="519" y="610" class="dt">23 Jan 2019</text>
<rect x="584" y="598" width="1" height="3" fill="#000"/>
<text x="583" y="610" class="dt">1 Feb 2019</text>
<rect x="648" y="598" width="1" height="3" fill="#000"/>
<text x="647" y="610" class="dt">11 Feb 2019</text>
<rect x="712" y="598" width="1" height="3" fill="#000"/>
<text x="711" y="610" class="dt">20 Feb 2019</text>
<rect x="776" y="598" width="1" height="3" fill="#000"/>
<text x="775" y="610" class="dt">1 Mar 2019</text>
<rect x="840" y="598" width="1" height="3" fill="#000"/>
<text x="839" y="610" class="dt">11 Mar 2019</text>
<rect x="904" y="598" width="1" height="3" fill="#000"/>
<text x="903" y="610" class="dt">20 Mar 2019</text>
<path d="M11 38 L18 38 L14.5 42 Z" fill="#000"/>
<text x="23.3" y="43" class="lb" textLength="65.3" lengthAdjust="spacingAndGlyphs">USDCNH,Daily</text>
<text x="95" y="43" class="lb" textLength="32.2" lengthAdjust="spacingAndGlyphs">6.70551</text>
<text x="131" y="43" class="lb" textLength="32.2" lengthAdjust="spacingAndGlyphs">6.71540</text>
<text x="167" y="43" class="lb" textLength="32.2" lengthAdjust="spacingAndGlyphs">6.70399</text>
<text x="203.2" y="43" class="lb" textLength="32.2" lengthAdjust="spacingAndGlyphs">6.70541</text>
<text x="12.4" y="448.8" class="lb" textLength="67.2" lengthAdjust="spacingAndGlyphs">RSI(14) 43.4087</text>
<text x="12.6" y="504.9" class="lb" textLength="152.7" lengthAdjust="spacingAndGlyphs">MACD(12,26,9) -0.008531 -0.008761</text>
</g>
<!-- price box -->
<rect x="1172" y="374" width="41" height="11" fill="#000"/>
<text x="1176" y="383" class="ax" style="fill:#fff;stroke:#fff" textLength="32.9" lengthAdjust="spacingAndGlyphs">6.70541</text>
<!-- tab bar -->
<rect x="5" y="618" width="1209" height="1" fill="#ececec"/>
<rect x="3" y="621" width="1211" height="21" fill="#f0f0f0"/>
<rect x="5" y="621" width="1209" height="1" fill="#f8f8f8"/>
<rect x="0" y="640" width="1214" height="1" fill="#fbfbfb"/>
<rect x="0" y="641" width="1214" height="1" fill="#f0f0f0"/>
<rect x="3" y="620" width="1211" height="1" fill="#000"/>
<rect x="3" y="621" width="2" height="18" fill="#696969"/>
<rect x="0" y="638" width="5" height="1" fill="#696969"/>
<rect x="421" y="620" width="104" height="19" fill="#000"/>
<rect x="422" y="620" width="102" height="18" fill="#fff"/>
<g shape-rendering="auto">
<text x="20.9" y="634.7" class="tab" textLength="80.4" lengthAdjust="spacingAndGlyphs">EURUSD,Daily</text>
<text x="123.9" y="634.7" class="tab" textLength="82.1" lengthAdjust="spacingAndGlyphs">AUDUSD,Daily</text>
<text x="227" y="634.7" class="tab" textLength="79.3" lengthAdjust="spacingAndGlyphs">USDCHF,Daily</text>
<text x="328.3" y="634.7" class="tab" textLength="80.3" lengthAdjust="spacingAndGlyphs">USDCAD,Daily</text>
<text x="535.1" y="634.7" class="tab" textLength="75.0" lengthAdjust="spacingAndGlyphs">USDJPY,Daily</text>
<text x="632" y="634.7" class="tab" textLength="68.6" lengthAdjust="spacingAndGlyphs">XAUUSD,H1</text>
<text x="724.9" y="634.7" class="tab" textLength="68.5" lengthAdjust="spacingAndGlyphs">GBPUSD,H4</text>
<text x="816.8" y="634.7" class="tab" textLength="63.9" lengthAdjust="spacingAndGlyphs">SP500,M15</text>
<text x="904.6" y="634.7" class="tab" textLength="80.8" lengthAdjust="spacingAndGlyphs">GBPUSD,Daily</text>
<text x="1007.6" y="634.7" class="tab" textLength="46.3" lengthAdjust="spacingAndGlyphs">DJ30,H4</text>
<text x="1075.2" y="634.7" class="tab" textLength="70.6" lengthAdjust="spacingAndGlyphs">TECH100,H1</text>
<rect x="113" y="623" width="1" height="14" fill="#555"/>
<rect x="217" y="623" width="1" height="14" fill="#555"/>
<rect x="317" y="623" width="1" height="14" fill="#555"/>
<rect x="621" y="623" width="1" height="14" fill="#555"/>
<rect x="713" y="623" width="1" height="14" fill="#555"/>
<rect x="805" y="623" width="1" height="14" fill="#555"/>
<rect x="893" y="623" width="1" height="14" fill="#555"/>
<rect x="997" y="623" width="1" height="14" fill="#555"/>
<rect x="1065" y="623" width="1" height="14" fill="#555"/>
<rect x="1157" y="623" width="1" height="14" fill="#555"/>
<text x="431.3" y="634.7" class="tab" style="fill:#000" textLength="82.6" lengthAdjust="spacingAndGlyphs">USDCNH,Daily</text>
<text x="1169.4" y="634.7" class="tab">U</text>
<rect x="1179" y="626" width="1" height="9" fill="#6a6a6a"/>
<path d="M1189 626 L1189 633 L1185.3 629.5 Z" fill="#a0a0a0"/>
<path d="M1204.4 626 L1204.4 633 L1208.4 629.5 Z" fill="#000"/>
</g>
</svg>
</body></html>
